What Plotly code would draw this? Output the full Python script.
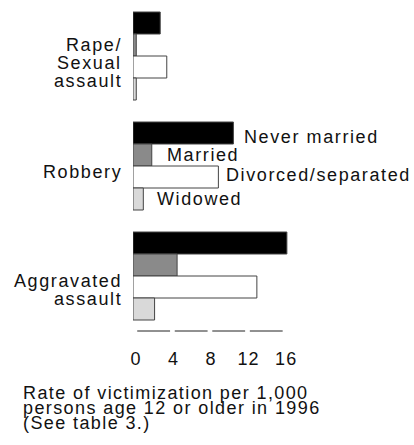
import plotly.graph_objects as go

# ---- data ----
categories = ["Rape/Sexual assault", "Robbery", "Aggravated assault"]
category_lines = [["Rape/", "Sexual", "assault"], ["Robbery"], ["Aggravated", "assault"]]
series_names = ["Never married", "Married", "Divorced/separated", "Widowed"]
never_married = [2.9, 10.7, 16.4]
married = [0.35, 2.0, 4.7]
divorced_separated = [3.6, 9.1, 13.2]
widowed = [0.35, 1.1, 2.3]
tick_values = [0, 4, 8, 12, 16]
tick_labels = ["0", "4", "8", "12", "16"]
note_lines = ["Rate of victimization per 1,000",
              "persons age 12 or older in 1996",
              "(See table 3.)"]

# ---- style ----
FONT = "Liberation Sans, Arial, sans-serif"
FS = 18
LS = "letter-spacing:1.6px"
fills = ["#000000", "#8a8a8a", "#ffffff", "#d9d9d9"]
outline = "#444444"


def sp(t, ls=LS):
    return f'<span style="{ls}">{t}</span>'


values = [never_married, married, divorced_separated, widowed]

fig = go.Figure()
for name, vals, col in zip(series_names, values, fills):
    fig.add_trace(go.Bar(
        y=categories, x=vals, name=name, orientation="h",
        marker=dict(color=col, line=dict(color=outline, width=1)),
        showlegend=False, hoverinfo="skip",
    ))

annotations = []
# category labels (left side)
cat_offsets = [7, 5.5, 14]   # px downward of caps center vs group center
LINE_H = 18
for ci, lines in enumerate(category_lines):
    n = len(lines)
    for li, txt in enumerate(lines):
        dy = (li - (n - 1) / 2) * LINE_H + cat_offsets[ci]
        annotations.append(dict(
            x=0, xref="x", y=ci, yref="y", text=sp(txt), showarrow=False,
            xanchor="right", yanchor="middle", xshift=-9, yshift=-dy,
            font=dict(family=FONT, size=FS, color="#111"),
        ))

# series labels next to the Robbery bars
rob = categories.index("Robbery")
bar_pos = [-0.3, -0.1, 0.1, 0.3]
label_dx = [9, 13, 6, 12]
label_dy = [3.5, 0, -2, 0]
for si, name in enumerate(series_names):
    annotations.append(dict(
        x=values[si][rob], xref="x", y=rob + bar_pos[si], yref="y",
        text=sp(name), showarrow=False, xanchor="left", yanchor="middle",
        xshift=label_dx[si], yshift=-label_dy[si],
        font=dict(family=FONT, size=FS, color="#111"),
    ))

# note under the axis
note_dy = [62, 76.5, 92]
for li, txt in enumerate(note_lines):
    annotations.append(dict(
        x=0, xref="paper", y=0, yref="paper", text=sp(txt, "letter-spacing:1.4px"),
        showarrow=False, xanchor="left", yanchor="middle",
        xshift=-112, yshift=-note_dy[li],
        font=dict(family=FONT, size=FS, color="#111"),
    ))

# broken axis line: one segment between successive ticks
shapes = []
for t0, t1 in zip(tick_values[:-1], tick_values[1:]):
    shapes.append(dict(
        type="line", xref="x", yref="paper",
        x0=t0 + 0.45, x1=t1 - 0.05, y0=0, y1=0,
        line=dict(color="#222", width=1),
    ))

fig.update_layout(
    width=414, height=445,
    margin=dict(l=133, r=7, t=1, b=114),
    paper_bgcolor="white", plot_bgcolor="white",
    barmode="group", bargap=0.2, bargroupgap=0,
    annotations=annotations, shapes=shapes,
    font=dict(family=FONT, size=FS, color="#111"),
    xaxis=dict(
        range=[0, 29.2], showgrid=False, zeroline=False, showline=False,
        tickvals=tick_values, ticktext=[sp(t, "letter-spacing:1px") for t in tick_labels],
        ticks="outside", ticklen=11, tickcolor="rgba(0,0,0,0)",
        ticklabelshift=3,
        tickfont=dict(family=FONT, size=FS, color="#111"),
    ),
    yaxis=dict(
        autorange="reversed", showgrid=False, zeroline=False, showline=False,
        showticklabels=False, ticks="",
    ),
)

fig.write_html("out.html", config={"displayModeBar": False},
               post_script="document.body.style.margin='0';")
